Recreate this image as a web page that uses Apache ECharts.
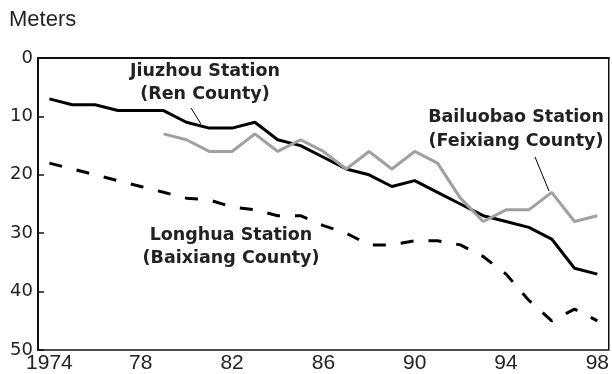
<!DOCTYPE html>
<html>
<head>
<meta charset="utf-8">
<script src="https://cdn.jsdelivr.net/npm/echarts@6/dist/echarts.min.js"></script>
<style>
html, body { margin: 0; padding: 0; background: #fff; }
#chart { width: 612px; height: 374px; }
</style>
</head>
<body>
<div id="chart"></div>
<script>
var years = [];
for (var y = 1974; y <= 1998; y++) years.push(String(y));

// depth to groundwater, meters
var jiuzhou = [7, 8, 8, 9, 9, 9, 11, 12, 12, 11, 14, 15, 17, 19, 20, 22, 21, 23, 25, 27, 28, 29, 31, 36, 37];
var bailuobao = [null, null, null, null, null, 13, 14, 16, 16, 13, 16, 14, 16, 19, 16, 19, 16, 18, 24, 28, 26, 26, 23, 28, 27];
var longhua = [18, 19, 20, 21, 22, 23, 24, 24.3, 25.5, 26, 27, 27, 28.7, 30, 32, 32, 31.3, 31.3, 32, 34, 37, 41.5, 45, 43, 45];

var font = 'DejaVu Sans';
var txt = '#222';

var chart = echarts.init(document.getElementById('chart'), null, {renderer: 'canvas'});
chart.setOption({
	animation: false,
	grid: {
		left: 38, top: 58, right: 2, bottom: 24,
		show: true,
		borderColor: '#111',
		borderWidth: 1.5
	},
	xAxis: {
		type: 'category',
		data: years,
		boundaryGap: true,
		axisLine: {lineStyle: {color: '#111', width: 2}},
		axisTick: {inside: true, length: 6, alignWithLabel: true, interval: 0, lineStyle: {color: '#111', width: 1.5}},
		axisLabel: {
			interval: 3,
			margin: 3,
			fontFamily: 'Liberation Sans',
			fontSize: 21,
			color: txt,
			formatter: function(v) { return v === '1974' ? v : v.slice(2); }
		},
		splitLine: {show: false}
	},
	yAxis: {
		type: 'value',
		inverse: true,
		min: 0, max: 50, interval: 10,
		axisLine: {show: true, lineStyle: {color: '#111', width: 2}},
		axisTick: {show: true, inside: true, length: 6, lineStyle: {color: '#111', width: 1.5}},
		axisLabel: {margin: 5, fontFamily: font, fontSize: 18, color: txt, padding: [0, 0, 6, 0]},
		splitLine: {show: false}
	},
	series: [{
		name: 'Jiuzhou Station',
		type: 'line',
		data: jiuzhou,
		symbol: 'none',
		lineStyle: {color: '#000', width: 3}
	}, {
		name: 'Bailuobao Station',
		type: 'line',
		data: bailuobao,
		symbol: 'none',
		lineStyle: {color: '#a0a0a0', width: 3}
	}, {
		name: 'Longhua Station',
		type: 'line',
		data: longhua,
		symbol: 'none',
		lineStyle: {color: '#000', width: 3, type: [13, 15]}
	}],
	graphic: [{
		type: 'text', left: 9, top: 9,
		style: {text: 'Meters', fontFamily: 'Liberation Sans', fontSize: 22, fill: txt}
	}, {
		type: 'text', x: 205, y: 83,
		style: {text: 'Jiuzhou Station\n(Ren County)', fontFamily: font, fontWeight: 'bold', fontSize: 17.5,
			lineHeight: 23, fill: txt, align: 'center', verticalAlign: 'middle'}
	}, {
		type: 'line', shape: {x1: 191, y1: 108, x2: 201, y2: 124}, style: {stroke: '#000', lineWidth: 1}
	}, {
		type: 'text', x: 516, y: 129,
		style: {text: 'Bailuobao Station\n(Feixiang County)', fontFamily: font, fontWeight: 'bold', fontSize: 17.5,
			lineHeight: 24, fill: txt, align: 'center', verticalAlign: 'middle'}
	}, {
		type: 'line', shape: {x1: 535, y1: 157, x2: 549, y2: 191}, style: {stroke: '#000', lineWidth: 1}
	}, {
		type: 'text', x: 231, y: 247,
		style: {text: 'Longhua Station\n(Baixiang County)', fontFamily: font, fontWeight: 'bold', fontSize: 17.5,
			lineHeight: 23.5, fill: txt, align: 'center', verticalAlign: 'middle'}
	}]
});
</script>
</body>
</html>
